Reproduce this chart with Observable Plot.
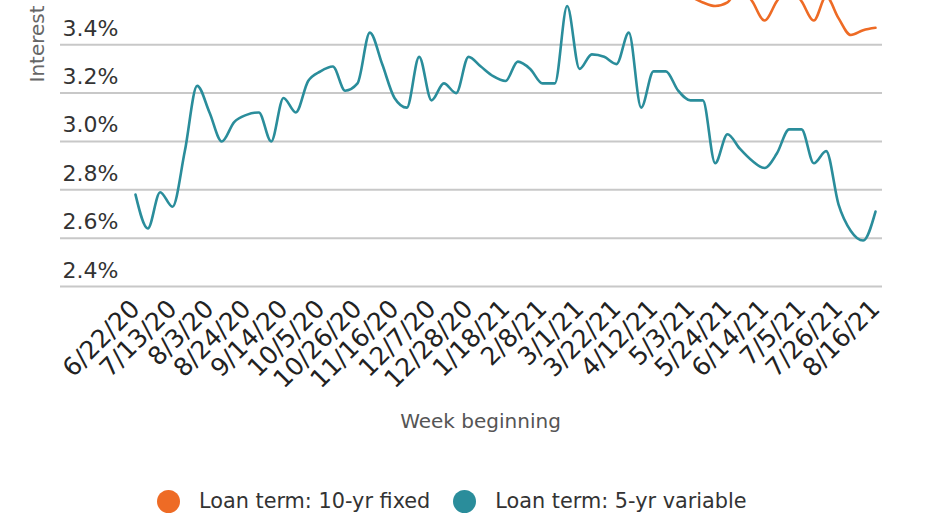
<!DOCTYPE html>
<html><head><meta charset="utf-8">
<script src="https://cdn.jsdelivr.net/npm/d3@7"></script>
<script src="https://cdn.jsdelivr.net/npm/@observablehq/plot@0.6"></script>
<style>
body{margin:0;background:#fff;width:932px;height:524px;overflow:hidden;}
#legend{display:flex;align-items:center;height:62px;padding-left:157px;font-family:"DejaVu Sans";font-size:20.8px;color:#333;}
.dot{display:inline-block;width:23px;height:23px;border-radius:50%;margin-right:19px;}
.lab{margin-right:23px;}
</style></head><body><div id="chart"></div><div id="legend"></div>
<script>
const weeks = ["6/22/20","6/29/20","7/6/20","7/13/20","7/20/20","7/27/20","8/3/20","8/10/20","8/17/20","8/24/20","8/31/20","9/7/20","9/14/20","9/21/20","9/28/20","10/5/20","10/12/20","10/19/20","10/26/20","11/2/20","11/9/20","11/16/20","11/23/20","11/30/20","12/7/20","12/14/20","12/21/20","12/28/20","1/4/21","1/11/21","1/18/21","1/25/21","2/1/21","2/8/21","2/15/21","2/22/21","3/1/21","3/8/21","3/15/21","3/22/21","3/29/21","4/5/21","4/12/21","4/19/21","4/26/21","5/3/21","5/10/21","5/17/21","5/24/21","5/31/21","6/7/21","6/14/21","6/21/21","6/28/21","7/5/21","7/12/21","7/19/21","7/26/21","8/2/21","8/9/21","8/16/21"];
const xTickLabels = ["6/22/20","7/13/20","8/3/20","8/24/20","9/14/20","10/5/20","10/26/20","11/16/20","12/7/20","12/28/20","1/18/21","2/8/21","3/1/21","3/22/21","4/12/21","5/3/21","5/24/21","6/14/21","7/5/21","7/26/21","8/16/21"];
const yTicks = [2.4, 2.6, 2.8, 3.0, 3.2, 3.4];
const seriesNames = ["Loan term: 10-yr fixed", "Loan term: 5-yr variable"];
const seriesColors = ["#ee6b25", "#2a8d9b"];
// 5-yr variable, one value per week
const variable5yr = [2.78,2.64,2.79,2.73,2.96,3.23,3.12,3.00,3.08,3.11,3.12,3.00,3.18,3.12,3.25,3.29,3.31,3.21,3.24,3.45,3.32,3.18,3.14,3.35,3.17,3.24,3.20,3.35,3.31,3.27,3.25,3.33,3.30,3.24,3.24,3.56,3.30,3.36,3.35,3.32,3.45,3.14,3.29,3.29,3.21,3.17,3.17,2.91,3.03,2.97,2.92,2.89,2.95,3.05,3.05,2.91,2.96,2.74,2.63,2.59,2.71];
// 10-yr fixed, visible part (weeks from 5/3/21)
const fixed10yrStart = "5/3/21";
const fixed10yr = [3.60,3.575,3.56,3.575,3.64,3.58,3.50,3.58,3.64,3.58,3.50,3.60,3.51,3.44,3.46,3.47];

const parseWeek = d3.utcParse("%m/%d/%y");
const fmtWeek = d => `${d.getUTCMonth() + 1}/${d.getUTCDate()}/${String(d.getUTCFullYear()).slice(2)}`;

const rows = [];
variable5yr.forEach((v, i) => rows.push({week: parseWeek(weeks[i]), rate: v, series: seriesNames[1]}));
const s0 = weeks.indexOf(fixed10yrStart);
fixed10yr.forEach((v, i) => rows.push({week: parseWeek(weeks[s0 + i]), rate: v, series: seriesNames[0]}));

const plot = Plot.plot({
  width: 932, height: 470,
  marginLeft: 60, marginRight: 50, marginTop: 0, marginBottom: 184,
  style: {fontFamily: "DejaVu Sans", background: "#fff", overflow: "hidden"},
  x: {type: "utc", domain: [parseWeek(weeks[0]), parseWeek(weeks[weeks.length - 1])], insetLeft: 75, insetRight: 7},
  y: {domain: [2.4, 3.583]},
  color: {domain: seriesNames, range: seriesColors},
  marks: [
    Plot.ruleY(yTicks, {stroke: "#c8c8c8", strokeWidth: 2}),
    Plot.axisY({ticks: yTicks, tickSize: 0, tickPadding: 0, dx: 2, dy: -16, textAnchor: "start", tickFormat: d => d.toFixed(1) + "%", fontSize: 22, fill: "#333", label: null}),
    Plot.axisX({ticks: xTickLabels.map(parseWeek), tickFormat: fmtWeek, tickSize: 0, tickRotate: -45, tickPadding: 18, fontSize: 25, fill: "#222", label: null}),
    Plot.text(["Week beginning"], {frameAnchor: "bottom", dx: 9, dy: 141, fontSize: 20, fill: "#555"}),
    Plot.text(["Interest"], {frameAnchor: "top-left", dx: -31, dy: 82, rotate: -90, textAnchor: "start", fontSize: 20, fill: "#666"}),
    Plot.line(rows, {x: "week", y: "rate", z: "series", stroke: "series", strokeWidth: 2.6, curve: "monotone-x", clip: true})
  ]
});
document.getElementById("chart").appendChild(plot);

const legend = document.getElementById("legend");
seriesNames.forEach((name, i) => {
  const dot = document.createElement("span");
  dot.className = "dot";
  dot.style.background = seriesColors[i];
  const lab = document.createElement("span");
  lab.className = "lab";
  lab.textContent = name;
  legend.appendChild(dot);
  legend.appendChild(lab);
});
</script></body></html>
